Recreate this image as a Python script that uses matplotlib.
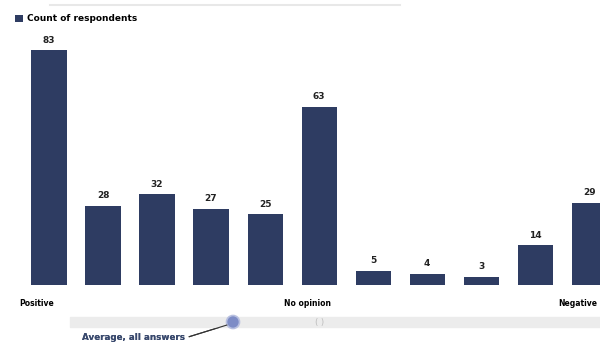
import matplotlib.pyplot as plt
from matplotlib.patches import Rectangle, Ellipse

# 回答数（左から Positive → No opinion → Negative）
counts = [83, 28, 32, 27, 25, 63, 5, 4, 3, 14, 29]
scale_labels = {0: "Positive", 5: "No opinion", 10: "Negative"}
series_name = "Count of respondents"
avg_label = "Average, all answers"

bar_color = "#2e3c62"

fig = plt.figure(figsize=(6, 3.47), dpi=100)
ax = fig.add_axes([0, 62 / 347, 1, 283 / 347])

x = list(range(len(counts)))
ax.bar(x, counts, width=0.65, color=bar_color, label=series_name)
for xi, v in zip(x, counts):
    ax.annotate(str(v), (xi, v), xytext=(0, 4), textcoords="offset points",
                ha="center", va="bottom", fontsize=6.5, fontweight="bold", color="#222222")

ax.set_xlim(-0.907, 10.2)
ax.set_ylim(0, 100)
ax.set_xticks([k - 0.22 for k in scale_labels])
ax.set_xticklabels(list(scale_labels.values()), fontsize=5.5, fontweight="bold")
ax.tick_params(axis="x", length=0, pad=10)
ax.set_yticks([])
for s in ax.spines.values():
    s.set_visible(False)

leg = ax.legend(loc="upper left", bbox_to_anchor=(0.012, 0.985), frameon=False,
                handlelength=0.9, handleheight=0.9, handletextpad=0.4,
                prop={"size": 6.5, "weight": "bold"})

# 上部の薄い線
fig.add_artist(plt.Line2D([50 / 600, 400 / 600], [1 - 5 / 347] * 2, color="#e8e8e8", lw=1.5))

# 下部の平均スケール
fig.patches.append(Rectangle((70 / 600, 1 - 327 / 347), 530 / 600, 10 / 347,
                             transform=fig.transFigure, color="#ececec", zorder=0))
fig.patches.append(Ellipse((233 / 600, 1 - 322 / 347), 13 / 600, 13 / 347,
                           transform=fig.transFigure,
                           facecolor="#7d8cc6", edgecolor="#b8c0e0", lw=1.2, zorder=2))
fig.text(320 / 600, 1 - 323 / 347, "( )", fontsize=6, color="#bbbbbb", ha="center", va="center")
fig.add_artist(plt.annotate(avg_label, xy=(227 / 600, 1 - 325 / 347), xycoords="figure fraction",
                            xytext=(82 / 600, 1 - 338 / 347), textcoords="figure fraction",
                            ha="left", va="center", fontsize=6.3, fontweight="bold", color="#3a4a6e",
                            arrowprops=dict(arrowstyle="-", color="#333333", lw=0.8,
                                            shrinkA=1, shrinkB=0,
                                            relpos=(1, 0.5))))

fig.savefig("out.png", dpi=100)
